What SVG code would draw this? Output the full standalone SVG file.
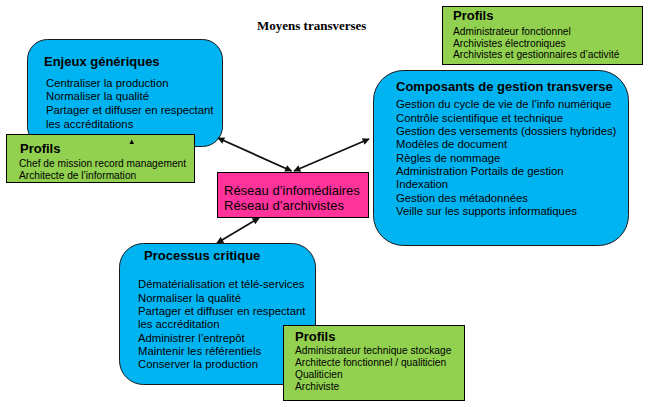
<svg xmlns="http://www.w3.org/2000/svg" width="649" height="407" viewBox="0 0 649 407">
<style>
.blue{fill:#00B4F2;stroke:#1a1a1a;stroke-width:1}
.green{fill:#92D050;stroke:#000;stroke-width:1}
.pink{fill:#FF3399;stroke:#000;stroke-width:1}
.t{font-family:"Liberation Sans",Arial,sans-serif;fill:#000}
.h{font-weight:bold;font-size:13px}
.b{font-size:11.3px}
.s{font-size:10.2px}
.p{font-size:13px}
.title{font-family:"Liberation Serif","Times New Roman",serif;font-weight:bold;font-size:13px;fill:#000}
.conn{stroke:#111;stroke-width:1.8;fill:none;marker-start:url(#ah);marker-end:url(#ah)}
</style>
<defs>
<marker id="ah" viewBox="0 0 10 10" refX="9" refY="5" markerWidth="8" markerHeight="7" markerUnits="userSpaceOnUse" orient="auto-start-reverse">
<path d="M0,0 L10,5 L0,10 z" fill="#111"/>
</marker>
</defs>
<rect width="649" height="407" fill="#fff"/>
<text class="title" x="257" y="30">Moyens transverses</text>

<g id="enjeux">
<rect class="blue" x="27.5" y="39.5" width="195" height="107" rx="20"/>
<text class="t h" x="44" y="65.5">Enjeux génériques</text>
<text class="t b" x="46" y="86.7">Centraliser la production</text>
<text class="t b" x="46" y="100.3">Normaliser la qualité</text>
<text class="t b" x="46" y="113.9">Partager et diffuser en respectant</text>
<text class="t b" x="46" y="127.5">les accréditations</text>
</g>

<g id="profils-enjeux">
<rect class="green" x="6.5" y="134.5" width="188" height="48"/>
<text class="t h" x="20" y="153">Profils</text>
<text class="t s" x="19" y="166.5">Chef de mission record management</text>
<text class="t s" x="19" y="178.5">Architecte de l’information</text>
<path d="M129.5,144 L131.8,139.5 L134,144 z" fill="#000"/>
</g>

<g id="profils-composants">
<rect class="green" x="442.5" y="6.5" width="200" height="58"/>
<text class="t h" x="453" y="20">Profils</text>
<text class="t s" x="453" y="35">Administrateur fonctionnel</text>
<text class="t s" x="453" y="46.5">Archivistes électroniques</text>
<text class="t s" x="453" y="58">Archivistes et gestionnaires d’activité</text>
</g>

<g id="composants">
<rect class="blue" x="373.5" y="70.5" width="255" height="175" rx="30"/>
<text class="t h" x="396" y="90.5">Composants de gestion transverse</text>
<text class="t b" x="396" y="108.3">Gestion du cycle de vie de l’info numérique</text>
<text class="t b" x="396" y="121.6">Contrôle scientifique et technique</text>
<text class="t b" x="396" y="135">Gestion des versements (dossiers hybrides)</text>
<text class="t b" x="396" y="148.3">Modèles de document</text>
<text class="t b" x="396" y="161.7">Règles de nommage</text>
<text class="t b" x="396" y="175">Administration Portails de gestion</text>
<text class="t b" x="396" y="188.3">Indexation</text>
<text class="t b" x="396" y="201.7">Gestion des métadonnées</text>
<text class="t b" x="396" y="215">Veille sur les supports informatiques</text>
</g>

<g id="reseau">
<rect class="pink" x="217.5" y="172.5" width="151" height="45"/>
<text class="t p" x="224" y="195">Réseau d’infomédiaires</text>
<text class="t p" x="224" y="209.5">Réseau d’archivistes</text>
</g>

<g id="processus">
<rect class="blue" x="119.5" y="243.5" width="196" height="141" rx="24"/>
<text class="t h" x="144" y="260">Processus critique</text>
<text class="t b" x="138" y="288.3">Dématérialisation et télé-services</text>
<text class="t b" x="138" y="301.6">Normaliser la qualité</text>
<text class="t b" x="138" y="315">Partager et diffuser en respectant</text>
<text class="t b" x="138" y="328.3">les accréditation</text>
<text class="t b" x="138" y="341.6">Administrer l’entrepôt</text>
<text class="t b" x="138" y="355">Maintenir les référentiels</text>
<text class="t b" x="138" y="368.3">Conserver la production</text>
</g>

<g id="profils-processus">
<rect class="green" x="283.5" y="325.5" width="181" height="75"/>
<text class="t h" x="295" y="341">Profils</text>
<text class="t s" x="295" y="353.5">Administrateur technique stockage</text>
<text class="t s" x="295" y="365.5">Architecte fonctionnel / qualiticien</text>
<text class="t s" x="295" y="377.5">Qualiticien</text>
<text class="t s" x="295" y="389.5">Archiviste</text>
</g>

<g id="connectors">
<line class="conn" x1="218" y1="138" x2="291.5" y2="171"/>
<line class="conn" x1="369" y1="139" x2="294" y2="171"/>
<line class="conn" x1="259" y1="218" x2="217" y2="243"/>
</g>
</svg>
